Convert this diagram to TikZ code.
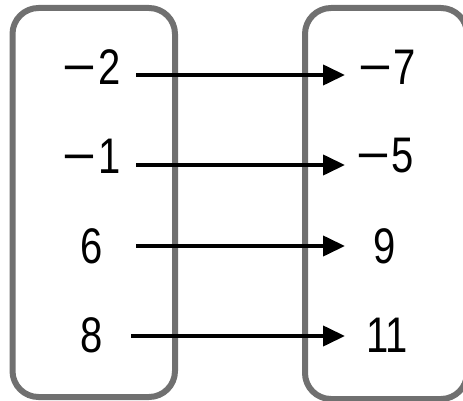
\documentclass[tikz,border=0pt]{standalone}
\usepackage{fontspec}
\setmainfont{Liberation Sans}
\usetikzlibrary{arrows.meta}
\definecolor{boxgray}{RGB}{112,112,112}
\newcommand{\nm}[1]{\scalebox{0.8}[1]{#1}}
\newcommand{\mn}{\scalebox{1.45}[1]{−}\hspace{2pt}}
\begin{document}
\begin{tikzpicture}[x=1pt,y=-1pt,
  setbox/.style={draw=boxgray, line width=6pt, rounded corners=26pt},
  num/.style={font=\fontsize{50}{50}\selectfont, inner sep=0pt},
  maparrow/.style={line width=4pt, -{Triangle[length=22pt,width=20pt]}}]
\useasboundingbox (0,0) rectangle (463,401);
\begin{scope}
\clip (0,0) rectangle (463,401);
\draw[setbox] (12.5,8) rectangle (175,397);
\draw[setbox] (305,8) rectangle (467,399);
\end{scope}
% domain
\node[num] (d1) at (91.5,67) {\nm{\mn 2}};
\node[num] (d2) at (91.5,156) {\nm{\mn 1}};
\node[num] (d3) at (92,246) {\nm{6}};
\node[num] (d4) at (92,335) {\nm{8}};
% range
\node[num] (r1) at (387,67) {\nm{\mn 7}};
\node[num] (r2) at (385,156) {\nm{\mn 5}};
\node[num] (r3) at (385,246) {\nm{9}};
\node[num] (r4) at (387,335.5) {\nm{11}};
% arrow ends
\coordinate (a1) at (136,75);  \coordinate (b1) at (345,75);
\coordinate (a2) at (136,165); \coordinate (b2) at (345,165);
\coordinate (a3) at (136,246); \coordinate (b3) at (345,246);
\coordinate (a4) at (131,336); \coordinate (b4) at (345,336);
\draw[maparrow] (a1) -- (b1);
\draw[maparrow] (a2) -- (b2);
\draw[maparrow] (a3) -- (b3);
\draw[maparrow] (a4) -- (b4);
\end{tikzpicture}
\end{document}
